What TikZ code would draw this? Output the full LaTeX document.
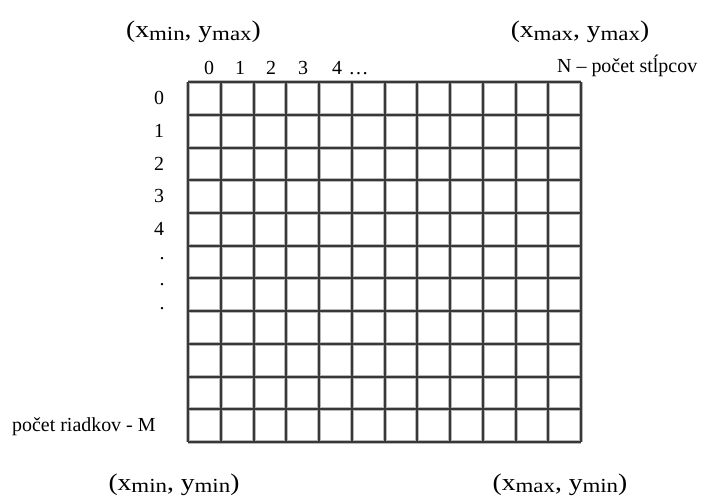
\documentclass[tikz,border=0pt]{standalone}
\usepackage{fontspec}
\setmainfont{Liberation Serif}
\newfontfamily\widefont[FakeStretch=1.15]{Liberation Serif}
\newcommand\ptlabel[2]{{\widefont\fontsize{24}{28}\selectfont (x\raisebox{-3pt}{\fontsize{20}{24}\selectfont #1}, y\raisebox{-3pt}{\fontsize{20}{24}\selectfont #2})}}
\tikzset{
  big/.style={inner sep=0pt, anchor=base},
  lab/.style={font=\fontsize{20}{24}\selectfont, inner sep=0pt, anchor=base},
  gridsoft/.style={draw=black!28, line width=4bp},
  gridhard/.style={draw=black!78, line width=2bp},
}
\begin{document}
\begin{tikzpicture}[x=1bp,y=-1bp]
\useasboundingbox (0,0) rectangle (706,498);
% grid corners
\coordinate (g0) at (188,82);
\coordinate (g1) at (581,442);
\def\xs{188,221,254,286,319,352,385,417,450,483,516,548,581}
\def\ys{82,115,148,180,213,246,278,311,344,377,409,442}
\foreach \x in \xs { \draw[gridsoft] (\x,82) -- (\x,442); }
\foreach \y in \ys { \draw[gridsoft] (188,\y) -- (581,\y); }
\foreach \x in \xs { \draw[gridhard] (\x,82) -- (\x,442); }
\foreach \y in \ys { \draw[gridhard] (188,\y) -- (581,\y); }
% corner labels
\node[big] (tl) at (193.5,38) {\ptlabel{min}{max}};
\node[big] (tr) at (580,38) {\ptlabel{max}{max}};
\node[big] (bl) at (174,490) {\ptlabel{min}{min}};
\node[big] (br) at (560,490) {\ptlabel{max}{min}};
% column labels
\node[lab] (c0) at (209,75) {0};
\node[lab] (c1) at (240,75) {1};
\node[lab] (c2) at (271,75) {2};
\node[lab] (c3) at (303,75) {3};
\node[lab] (c4) at (337,75) {4};
\node[lab] (cd) at (358.5,75) {…};
\node[lab, anchor=base west] (ncols) at (557,73) {N – počet stĺpcov};
% row labels
\node[lab] (r0) at (159,105) {0};
\node[lab] (r1) at (159,138) {1};
\node[lab] (r2) at (159,171) {2};
\node[lab] (r3) at (159,203) {3};
\node[lab] (r4) at (159,236) {4};
\node[lab] (d1) at (162,260) {.};
\node[lab] (d2) at (162,285) {.};
\node[lab] (d3) at (162,309) {.};
\node[lab, anchor=base west] (mrows) at (12,431) {počet riadkov - M};
\end{tikzpicture}
\end{document}
